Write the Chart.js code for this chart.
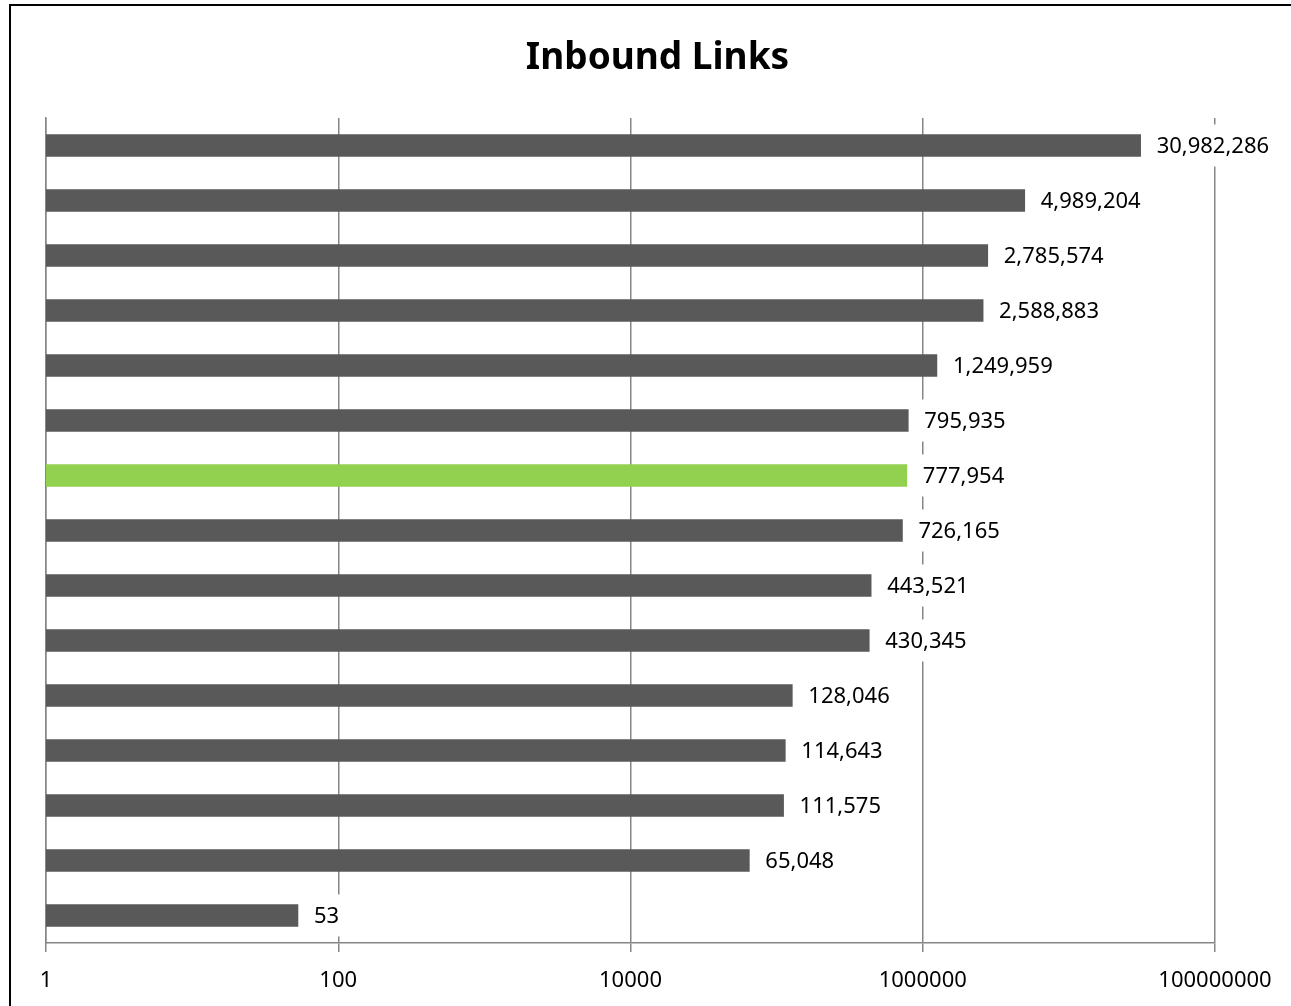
<!DOCTYPE html>
<html>
<head>
<meta charset="utf-8">
<script src="https://cdn.jsdelivr.net/npm/chart.js@4/dist/chart.umd.min.js"></script>
<style>
  html, body { margin: 0; padding: 0; background: #fff; }
  #wrap { width: 1291px; height: 1006px; }
</style>
</head>
<body>
<div id="wrap"><canvas id="linksChart"></canvas></div>
<script>
// chart data, top bar first
const sites = ["1", "2", "3", "4", "5", "6", "7", "8", "9", "10", "11", "12", "13", "14", "15"];
const inboundLinks = [30982286, 4989204, 2785574, 2588883, 1249959, 795935, 777954, 726165,
  443521, 430345, 128046, 114643, 111575, 65048, 53];
const highlightIndex = 6;
const xTicks = [1, 100, 10000, 1000000, 100000000];

const GRAY = "#595959";
const GREEN = "#92D050";
const GRID = "#868686";
const FONT = "'Noto Sans', 'Open Sans', sans-serif";

// white frame + left/top border like the office export
const frame = {
  id: "frame",
  beforeDraw(chart) {
    const ctx = chart.ctx;
    ctx.save();
    ctx.fillStyle = "#fff";
    ctx.fillRect(0, 0, chart.width, chart.height);
    ctx.strokeStyle = "#000";
    ctx.lineWidth = 2;
    ctx.beginPath();
    ctx.moveTo(10, chart.height + 2);
    ctx.lineTo(10, 5);
    ctx.lineTo(chart.width + 2, 5);
    ctx.stroke();
    ctx.restore();
  },
};

// value labels at the end of each bar, on a white box
const barLabels = {
  id: "barLabels",
  afterDatasetsDraw(chart) {
    const ctx = chart.ctx;
    const meta = chart.getDatasetMeta(0);
    ctx.save();
    ctx.font = "22px " + FONT;
    ctx.textBaseline = "middle";
    meta.data.forEach((bar, i) => {
      const text = inboundLinks[i].toLocaleString("en-US");
      const x = bar.x + 16;
      const w = ctx.measureText(text).width;
      ctx.fillStyle = "#fff";
      ctx.fillRect(x - 6, bar.y - 21, w + 12, 42);
      ctx.fillStyle = "#000";
      ctx.fillText(text, x, bar.y + 1);
    });
    ctx.restore();
  },
};

new Chart(document.getElementById("linksChart"), {
  type: "bar",
  data: {
    labels: sites,
    datasets: [
      {
        data: inboundLinks,
        backgroundColor: inboundLinks.map((_, i) => (i === highlightIndex ? GREEN : GRAY)),
        barThickness: 22,
        borderWidth: 0,
      },
    ],
  },
  options: {
    indexAxis: "y",
    responsive: true,
    maintainAspectRatio: false,
    animation: false,
    layout: { padding: { left: 24, right: 0, top: 0, bottom: 0 } },
    scales: {
      x: {
        type: "logarithmic",
        min: 1,
        max: 100000000,
        afterBuildTicks: (scale) => {
          scale.ticks = xTicks.map((v) => ({ value: v }));
        },
        afterFit: (scale) => {
          scale.height = 63;
        },
        grid: { color: GRID, lineWidth: 1.5, tickLength: 9, drawOnChartArea: true },
        border: { color: GRID, width: 1.5 },
        ticks: {
          color: "#000",
          font: { size: 22, family: FONT },
          padding: 16,
          maxRotation: 0,
          autoSkip: false,
          callback: (v) => String(v),
        },
      },
      y: {
        grid: { display: false },
        border: { color: GRID, width: 1.5 },
        ticks: { display: false },
        afterFit: (scale) => {
          scale.width = 22;
        },
      },
      // empty right-hand spacer so the plot ends where the reference does
      yRight: {
        position: "right",
        grid: { display: false },
        border: { display: false },
        ticks: { display: false },
        afterFit: (scale) => {
          scale.width = 76;
        },
      },
    },
    plugins: {
      legend: { display: false },
      tooltip: { enabled: false },
      title: {
        display: true,
        text: "Inbound Links",
        color: "#000",
        font: { size: 37, weight: "bold", family: FONT },
        padding: { top: 36, bottom: 37.6 },
      },
    },
  },
  plugins: [frame, barLabels],
});
</script>
</body>
</html>
